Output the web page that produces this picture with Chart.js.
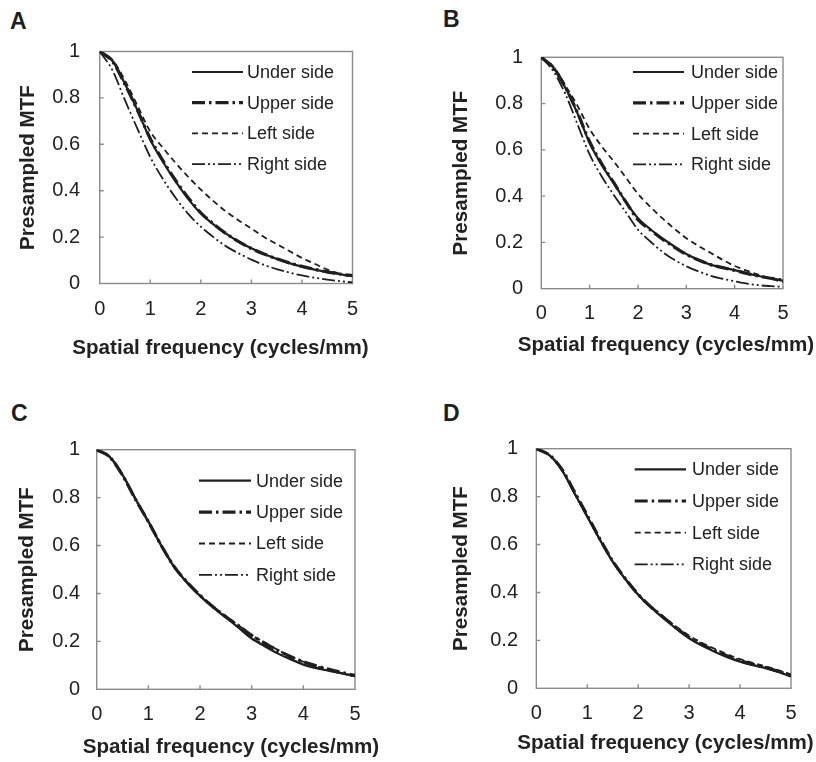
<!DOCTYPE html>
<html><head><meta charset="utf-8">
<script src="https://cdn.jsdelivr.net/npm/chart.js@4"></script>
<style>
html,body{margin:0;padding:0;background:#fff;}
#wrap{position:relative;width:816px;height:762px;overflow:hidden;background:#fff;}
canvas{position:absolute;}
.lbl{position:absolute;font:bold 23px Arial,"Liberation Sans",sans-serif;color:#1e1e1e;line-height:23px;}
</style></head><body><div id="wrap">
<div class="lbl" style="left:10px;top:10px">A</div>
<div class="lbl" style="left:443px;top:8px">B</div>
<div class="lbl" style="left:11px;top:402px">C</div>
<div class="lbl" style="left:443px;top:402px">D</div>
<canvas id="cA"></canvas><canvas id="cB"></canvas><canvas id="cC"></canvas><canvas id="cD"></canvas>
</div>
<script>
// ---- data ----
const freq = [0,0.25,0.5,0.75,1,1.25,1.5,1.75,2,2.25,2.5,2.75,3,3.25,3.5,3.75,4,4.25,4.5,4.75,5];
const seriesNames = ['Under side','Upper side','Left side','Right side'];
const xTickValues = [0,1,2,3,4,5];
const yTickValues = [0,0.2,0.4,0.6,0.8,1];
const xTitle = 'Spatial frequency (cycles/mm)';
const yTitle = 'Presampled MTF';

const aUnder = [1.0,0.96,0.86,0.745,0.62,0.525,0.44,0.365,0.302,0.255,0.215,0.18,0.152,0.127,0.106,0.088,0.073,0.06,0.049,0.04,0.033];
const aUpper = [1.0,0.958,0.858,0.745,0.625,0.53,0.445,0.37,0.305,0.257,0.215,0.18,0.151,0.127,0.107,0.089,0.074,0.061,0.05,0.041,0.034];
const aLeft  = [1.0,0.965,0.875,0.765,0.655,0.585,0.52,0.46,0.405,0.355,0.31,0.272,0.237,0.2,0.17,0.14,0.11,0.085,0.06,0.042,0.027];
const aRight = [1.0,0.92,0.79,0.665,0.545,0.45,0.37,0.3,0.245,0.2,0.16,0.13,0.103,0.08,0.062,0.047,0.035,0.025,0.017,0.01,0.005];

const bUnder = [1.0,0.955,0.867,0.757,0.63,0.535,0.455,0.375,0.305,0.258,0.218,0.183,0.15,0.125,0.104,0.092,0.08,0.067,0.055,0.045,0.035];
const bUpper = [1.0,0.955,0.87,0.76,0.635,0.54,0.458,0.375,0.298,0.255,0.215,0.18,0.148,0.124,0.104,0.091,0.079,0.066,0.054,0.045,0.037];
const bLeft  = [1.0,0.96,0.878,0.79,0.69,0.615,0.55,0.48,0.41,0.355,0.305,0.26,0.218,0.185,0.155,0.125,0.098,0.078,0.06,0.043,0.028];
const bRight = [1.0,0.94,0.84,0.71,0.58,0.485,0.405,0.33,0.255,0.205,0.16,0.125,0.097,0.075,0.056,0.043,0.032,0.022,0.015,0.011,0.008];

const cUnder = [1.0,0.97,0.895,0.795,0.7,0.6,0.51,0.445,0.39,0.342,0.3,0.256,0.212,0.18,0.15,0.125,0.103,0.088,0.077,0.066,0.055];
const cUpper = [1.0,0.97,0.893,0.793,0.7,0.6,0.512,0.447,0.392,0.345,0.303,0.265,0.225,0.193,0.163,0.137,0.115,0.098,0.083,0.07,0.058];
const cLeft  = [1.0,0.972,0.897,0.797,0.702,0.603,0.515,0.448,0.393,0.347,0.305,0.266,0.226,0.195,0.165,0.138,0.115,0.097,0.082,0.068,0.056];
const cRight = [1.0,0.968,0.893,0.792,0.697,0.598,0.51,0.444,0.389,0.342,0.3,0.259,0.217,0.184,0.152,0.127,0.106,0.09,0.078,0.066,0.052];

const dUnder = [1.0,0.974,0.912,0.814,0.717,0.62,0.529,0.455,0.39,0.337,0.292,0.248,0.209,0.178,0.153,0.13,0.111,0.096,0.084,0.068,0.049];
const dUpper = [1.0,0.975,0.915,0.82,0.722,0.623,0.531,0.457,0.392,0.34,0.296,0.252,0.213,0.183,0.158,0.135,0.115,0.1,0.087,0.071,0.053];
const dLeft  = [1.0,0.974,0.913,0.815,0.718,0.62,0.53,0.457,0.393,0.342,0.298,0.257,0.22,0.19,0.165,0.142,0.122,0.106,0.092,0.076,0.058];
const dRight = [1.0,0.973,0.911,0.813,0.716,0.619,0.528,0.455,0.39,0.338,0.293,0.25,0.212,0.18,0.155,0.132,0.113,0.098,0.085,0.069,0.05];

// ---- styles ----
const FONT = "Arial, 'Liberation Sans', sans-serif";
const LINE = '#1f1f1f';
const TEXT = '#222222';
const FRAME = '#8a8a8a';
const TITLE_SIZE = 20.6;
const lineStyles = [
  {borderWidth:2.2, borderDash:[]},
  {borderWidth:3.2, borderDash:[13,4,2.5,4]},
  {borderWidth:1.8, borderDash:[6,4]},
  {borderWidth:1.8, borderDash:[13,3,2,3,2,3]}
];

const panels = [
  {id:'cA', box:[0,0,408,380], plot:[99.7,352.5,51.5,283.5], yTitleX:28, yLabR:80, xLabY:309, xTitleX:220.5, xTitleY:348,
   leg:{top:20.5, step:30.7, l0:92.3, l1:143.3, tx:147.3}, series:[aUnder,aUpper,aLeft,aRight]},
  {id:'cB', box:[408,0,408,380], plot:[541.3,783,57.3,288.7], yTitleX:461.5, yLabR:523, xLabY:313.5, xTitleX:666, xTitleY:345,
   leg:{top:14.7, step:30.8, l0:91.7, l1:142.7, tx:149.7}, series:[bUnder,bUpper,bLeft,bRight]},
  {id:'cC', box:[0,380,408,382], plot:[96.7,355,449.7,689.3], yTitleX:27, yLabR:80, xLabY:714.7, xTitleX:231, xTitleY:747.5,
   leg:{top:31, step:31.4, l0:102.3, l1:154.3, tx:159.3}, series:[cUnder,cUpper,cLeft,cRight]},
  {id:'cD', box:[408,380,408,382], plot:[536.3,791,448.7,688.3], yTitleX:461.5, yLabR:518, xLabY:713.5, xTitleX:665.5, xTitleY:743.5,
   leg:{top:20.6, step:31.7, l0:98.4, l1:149.7, tx:155.7}, series:[dUnder,dUpper,dLeft,dRight]}
];

const decor = {
  id:'decor',
  beforeDatasetsDraw(chart){
    const {ctx, chartArea:a, scales} = chart;
    ctx.save();
    ctx.strokeStyle = FRAME; ctx.lineWidth = 1.4; ctx.setLineDash([]);
    ctx.strokeRect(a.left, a.top, a.right-a.left, a.bottom-a.top);
    ctx.beginPath();
    scales.x.ticks.forEach(t => {
      if (t.value <= 0 || t.value >= 5) return;
      const px = scales.x.getPixelForValue(t.value);
      ctx.moveTo(px, a.bottom); ctx.lineTo(px, a.bottom-4);
    });
    scales.y.ticks.forEach(t => {
      if (t.value <= 0 || t.value >= 1) return;
      const py = scales.y.getPixelForValue(t.value);
      ctx.moveTo(a.left, py); ctx.lineTo(a.left+4, py);
    });
    ctx.stroke();
    ctx.restore();
  },
  afterDraw(chart, args, opts){
    const {ctx, chartArea:a} = chart;
    const L = opts.leg;
    ctx.save();
    chart.data.datasets.forEach((ds,i) => {
      const y = a.top + L.top + i*L.step;
      ctx.strokeStyle = LINE; ctx.lineWidth = ds.borderWidth;
      ctx.setLineDash(ds.borderDash || []);
      ctx.beginPath(); ctx.moveTo(a.left+L.l0, y); ctx.lineTo(a.left+L.l1, y); ctx.stroke();
      ctx.setLineDash([]);
      ctx.fillStyle = TEXT; ctx.font = '18px ' + FONT;
      ctx.textBaseline = 'middle'; ctx.textAlign = 'left';
      ctx.fillText(ds.label, a.left+L.tx, y+1);
    });
    // x-axis title (drawn without width compression)
    ctx.fillStyle = TEXT; ctx.font = 'bold ' + TITLE_SIZE + 'px ' + FONT;
    ctx.textAlign = 'center'; ctx.textBaseline = 'middle';
    ctx.fillText(opts.xTitle, opts.tx, opts.ty);
    ctx.restore();
  }
};

panels.forEach(p => {
  const [bx,by,bw,bh] = p.box;
  const [pl,pr,pt,pb] = p.plot;
  const cv = document.getElementById(p.id);
  cv.width = bw; cv.height = bh;
  cv.style.left = bx+'px'; cv.style.top = by+'px';
  cv.style.width = bw+'px'; cv.style.height = bh+'px';
  const datasets = seriesNames.map((name,i) => ({
    label: name,
    data: freq.map((f,k) => ({x:f, y:p.series[i][k]})),
    borderColor: LINE,
    borderWidth: lineStyles[i].borderWidth,
    borderDash: lineStyles[i].borderDash,
    pointRadius: 0,
    fill: false,
    cubicInterpolationMode: 'monotone'
  }));
  new Chart(cv, {
    type:'line',
    data:{datasets},
    plugins:[decor],
    options:{
      responsive:false, animation:false, devicePixelRatio:1,
      layout:{padding:{left:0, top:pt-by, right:bx+bw-pr, bottom:0}},
      plugins:{legend:{display:false}, tooltip:{enabled:false},
               decor:{leg:p.leg, xTitle:xTitle, tx:p.xTitleX - bx, ty:p.xTitleY - by}},
      scales:{
        x:{type:'linear', min:0, max:5,
           afterBuildTicks: s => { s.ticks = xTickValues.map(v => ({value:v})); },
           grid:{display:false, drawTicks:false}, border:{display:false},
           ticks:{color:TEXT, font:{size:20, family:FONT}, padding: p.xLabY - pb - 12, maxRotation:0,
                  callback: v => String(v)},
           title:{display:false},
           afterFit: s => { s.height = by+bh-pb; s.paddingLeft = 0; s.paddingRight = 0; }
        },
        y:{type:'linear', min:0, max:1,
           afterBuildTicks: s => { s.ticks = yTickValues.map(v => ({value:v})); },
           grid:{display:false, drawTicks:false}, border:{display:false},
           ticks:{color:TEXT, font:{size:20, family:FONT}, padding: pl - p.yLabR,
                  callback: v => String(+Number(v).toFixed(1))},
           title:{display:true, text:yTitle, color:TEXT, font:{size:TITLE_SIZE, weight:'bold', family:FONT, lineHeight:1.2},
                  padding:{top:(p.yTitleX - bx) - TITLE_SIZE*0.6, bottom:0}},
           afterFit: s => { s.width = pl-bx; s.paddingTop = 0; s.paddingBottom = 0; }
        }
      }
    }
  });
});
</script>
</body></html>
